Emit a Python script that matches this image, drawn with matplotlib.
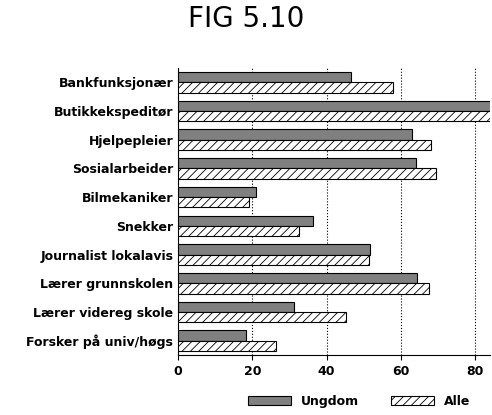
import matplotlib
matplotlib.use("Agg")
import matplotlib.pyplot as plt
import numpy as np

categories = ["Bankfunksjonær", "Butikkekspeditør", "Hjelpepleier", "Sosialarbeider",
              "Bilmekaniker", "Snekker", "Journalist lokalavis", "Lærer grunnskolen",
              "Lærer videreg skole", "Forsker på univ/høgs"]
ungdom = [46.5, 90, 63, 64, 21, 36.4, 51.6, 64.4, 31.3, 18.4]
alle = [57.8, 88, 68, 69.5, 19, 32.6, 51.3, 67.6, 45.2, 26.5]
xticks = [0, 20, 40, 60, 80]

plt.rcParams['hatch.linewidth'] = 0.6
fig = plt.figure(figsize=(4.92, 4.15), dpi=100)
ax = fig.add_axes([178/492, 1-355/415, 312/492, 287/415])
y = np.arange(len(categories))
h = 0.36
ax.barh(y - h/2, ungdom, height=h, color="#808080", edgecolor="black", lw=0.8, label="Ungdom", zorder=3)
ax.barh(y + h/2, alle, height=h, color="white", edgecolor="black", lw=0.8, hatch="////", label="Alle", zorder=3)
ax.set_xlim(0, 84)
ax.set_ylim(len(categories) - 0.5, -0.5)
ax.set_yticks(y)
ax.set_yticklabels(categories, fontsize=9, fontweight="bold")
ax.set_xticks(xticks)
ax.set_xticklabels([str(t) for t in xticks], fontsize=9, fontweight="bold")
ax.xaxis.grid(True, linestyle=":", color="black", lw=0.8, zorder=0)
for s in ["top", "right"]:
    ax.spines[s].set_visible(False)
ax.tick_params(axis="y", length=0)
fig.text(0.5, 0.955, "FIG 5.10", ha="center", va="center", fontsize=20)
fig.legend(loc="lower center", bbox_to_anchor=(0.73, -0.01), ncol=2, frameon=False,
           prop={"weight": "bold", "size": 9}, handlelength=3.5, columnspacing=2.5)
fig.savefig("out.png", dpi=100)
